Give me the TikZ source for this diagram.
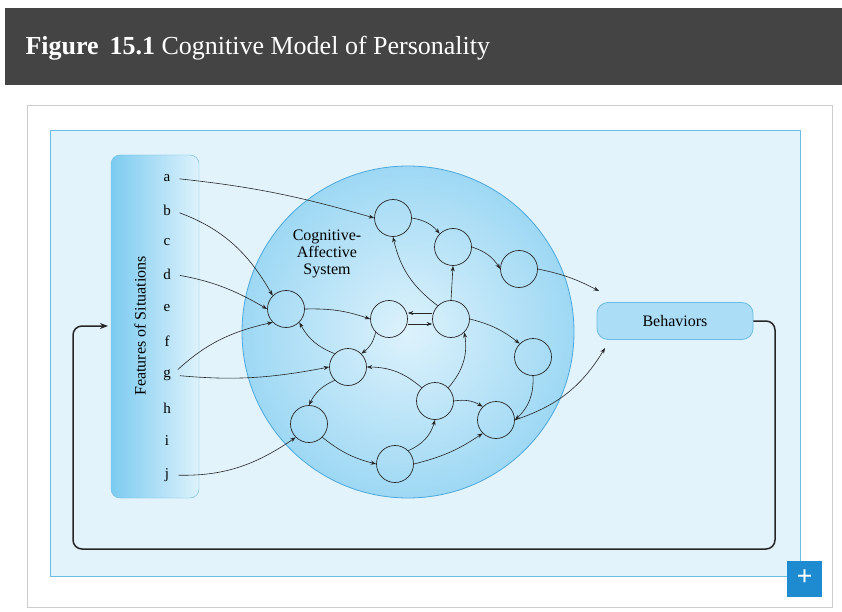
\documentclass[tikz,border=0pt]{standalone}
\usepackage{fontspec}
\setmainfont{Liberation Serif}
\usetikzlibrary{arrows.meta,shadings}
\definecolor{hdr}{HTML}{444444}
\definecolor{pan}{HTML}{E2F3FB}
\definecolor{panb}{HTML}{6BBDE3}
\definecolor{cin}{HTML}{DDF2FC}
\definecolor{cout}{HTML}{9ED8F4}
\definecolor{cbd}{HTML}{4AA8DC}
\definecolor{bar}{HTML}{7CCBF0}
\definecolor{plusb}{HTML}{1E8BD0}
\tikzset{
 nd/.style={circle,draw=black!85,line width=0.7pt,minimum size=37pt,inner sep=0pt},
 ar/.style={-{Stealth[length=5.5pt,width=4pt]},line width=0.6pt,black!85},
 lt/.style={font=\fontsize{15}{15}\selectfont,inner sep=1pt}
}
\begin{document}
\begin{tikzpicture}[x=1pt,y=-1pt]
\useasboundingbox (0,0) rectangle (842,612);
\fill[white] (0,0) rectangle (842,612);
\fill[hdr] (5,8) rectangle (842,85);
\node[anchor=west,text=white,font=\fontsize{26}{26}\selectfont] (ttl) at (22,48) {\textbf{Figure\, 15.1} Cognitive Model of Personality};
\draw[black!20,fill=white] (27,105) rectangle (832,607);
\draw[panb,fill=pan,line width=0.8pt] (50,130) rectangle (800,576);
% bar
\shade[left color=bar,right color=cin,rounded corners=9pt,draw=panb] (111,155) rectangle (199,498);
\node[rotate=90,font=\fontsize{16}{16}\selectfont] (fos) at (140,326) {Features of Situations};
% big circle
\shade[inner color=cin,outer color=cout,draw=cbd,line width=0.8pt] (408,332) circle (166);
\node[align=center,font=\fontsize{16}{17}\selectfont] (cas) at (327,254) {Cognitive-\\Affective\\System};
% letters
\foreach \l/\yy in {a/178,b/210,c/242,d/274,e/308,f/341,g/375,h/408,i/441,j/475}
  \node[lt] (\l) at (167,\yy) {\l};
% behaviors
\node[draw=panb,fill=cout!80!cin,rounded corners=11pt,minimum width=156pt,minimum height=37pt,font=\fontsize{16}{16}\selectfont,line width=0.8pt] (beh) at (675,321) {Behaviors};
% nodes
\node[nd] (n1) at (393,218) {};
\node[nd] (n2) at (453,247) {};
\node[nd] (n3) at (519,269) {};
\node[nd] (n4) at (286,309) {};
\node[nd] (n5) at (389,319) {};
\node[nd] (n6) at (451,319) {};
\node[nd] (n7) at (533,357) {};
\node[nd] (n8) at (348,367) {};
\node[nd] (n9) at (435,401) {};
\node[nd] (n10) at (496,420) {};
\node[nd] (n11) at (309,424) {};
\node[nd] (n12) at (395,464) {};
\coordinate (b1) at (599,291);
\coordinate (b2) at (605,348);
\tikzset{st/.style={shorten <=8pt}}
% input arrows
\draw[ar,st] (a.east) to[bend left=5] (n1.west);
\draw[ar,st] (b.east) to[bend left=20] (n4.north west);
\draw[ar,st] (d.east) to[bend left=10] (n4.west);
\draw[ar,st] (g.east) to[bend left=15] (n4.south west);
\draw[ar,st] (g.east) to[bend right=8] (n8.west);
\draw[ar,st] (j.east) to[bend right=18] (n11.south west);
% internal
\draw[ar] (n1.east) to[bend left=20] (n2.north west);
\draw[ar] (n2.east) to[bend left=20] (n3.west);
\draw[ar] (n3.east) to[bend left=8] (b1);
\draw[ar] (n4.east) to[bend left=10] (n5.west);
\draw[ar] ([yshift=-5pt]n5.east) -- ([yshift=-5pt]n6.west);
\draw[ar] ([yshift=6pt]n6.west) -- ([yshift=6pt]n5.east);
\draw[ar] (n6.north west) to[bend left=20] (n1.south);
\draw[ar] (n6.north) -- (n2.south);
\draw[ar] (n6.east) to[bend left=12] (n7.north west);
\draw[ar] (n5.south west) to[bend left=20] (n8.north east);
\draw[ar] (n8.north west) to[bend left=20] (n4.south east);
\draw[ar] (n8.south west) to[bend right=20] (n11.north);
\draw[ar] (n9.north west) to[bend right=20] (n8.east);
\draw[ar] (n9.north east) to[bend right=25] (n6.south east);
\draw[ar] (n9.east) to[bend left=20] (n10.north west);
\draw[ar] (n7.south) to[bend left=25] (n10.east);
\draw[ar] (n11.south east) to[bend right=12] (n12.west);
\draw[ar] (n12.north east) to[bend right=25] (n9.south);
\draw[ar] (n12.east) to[bend right=10] (n10.south west);
\draw[ar] (n10.east) to[bend right=20] (b2);
% feedback
\draw[-{Stealth[length=8pt,width=6pt]},line width=1.5pt,black!85,rounded corners=9pt]
  (beh.east) -- (775,321) -- (775,549) -- (73,549) -- (73,326) -- (108,326);
% plus
\fill[plusb] (787,561) rectangle (822,597);
\node[text=white,font=\fontsize{28}{28}\selectfont\bfseries] (pl) at (804.5,578) {+};
\end{tikzpicture}
\end{document}
